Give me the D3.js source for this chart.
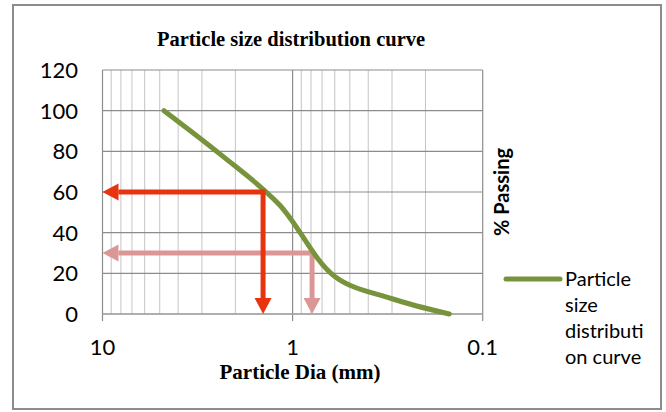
<!DOCTYPE html>
<html>
<head>
<meta charset="utf-8">
<script src="https://cdn.jsdelivr.net/npm/d3@7"></script>
<style>
  body { margin: 0; background: #fff; }
</style>
</head>
<body>
<svg id="chart" width="666" height="412"></svg>
<script>
// sieve sizes (mm) and % passing
const sieve = [4.75, 2.36, 1.18, 0.6, 0.3, 0.15];
const passing = [100, 78, 54, 18.5, 7.5, 0];
const yTicks = [0, 20, 40, 60, 80, 100, 120];
const xTicks = [10, 1, 0.1];
const xTickLabels = ["10", "1", "0.1"];
// the two read-off lines: [dia, % passing]
const d60 = [1.43, 60];
const d30 = [0.79, 30];
const legendLines = ["Particle", "size", "distributi", "on curve"];

const svg = d3.select("#chart");
const pLeft = 102.5, pRight = 482.7, pTop = 70, pBottom = 314;

const x = d3.scaleLog().domain([10, 0.1]).range([pLeft, pRight]);
const y = d3.scaleLinear().domain([0, 120]).range([pBottom, pTop]);

// outer frame
svg.append("rect")
  .attr("x", 13).attr("y", 5).attr("width", 648).attr("height", 404)
  .attr("fill", "#fff").attr("stroke", "#8c8c8c").attr("stroke-width", 2);

const g = svg.append("g");

// minor vertical grid
const minor = [];
[0.1, 1].forEach(base => { for (let k = 2; k <= 9; k++) minor.push(base * k); });
g.selectAll("line.minor").data(minor).join("line")
  .attr("x1", d => x(d)).attr("x2", d => x(d))
  .attr("y1", pTop).attr("y2", pBottom)
  .attr("stroke", "#c4c4c4").attr("stroke-width", 1);

// horizontal grid
g.selectAll("line.h").data(yTicks).join("line")
  .attr("x1", pLeft).attr("x2", pRight)
  .attr("y1", d => y(d)).attr("y2", d => y(d))
  .attr("stroke", "#8c8c8c").attr("stroke-width", 1.2);

// major vertical grid
g.selectAll("line.major").data(xTicks).join("line")
  .attr("x1", d => x(d)).attr("x2", d => x(d))
  .attr("y1", pTop).attr("y2", pBottom + 7)
  .attr("stroke", "#8c8c8c").attr("stroke-width", 1.2);

// x axis line
g.append("line").attr("x1", pLeft).attr("x2", pRight)
  .attr("y1", pBottom).attr("y2", pBottom)
  .attr("stroke", "#a6a6a6").attr("stroke-width", 1.5);

// y tick labels
g.selectAll("text.yl").data(yTicks).join("text")
  .attr("x", 78).attr("y", d => y(d)).attr("dy", "0.36em")
  .attr("text-anchor", "end")
  .attr("font-family", "Lato, sans-serif").attr("font-size", 22)
  .text(d => d);

// x tick labels
g.selectAll("text.xl").data(xTicks).join("text")
  .attr("x", d => x(d)).attr("y", 355)
  .attr("text-anchor", "middle")
  .attr("font-family", "Lato, sans-serif").attr("font-size", 22)
  .text((d, i) => xTickLabels[i]);

// arrows
function arrow(pt, color) {
  const px = x(pt[0]), py = y(pt[1]);
  const x0 = x(10), y0 = y(0);
  const w = 5, head = 16, half = 8.5;
  g.append("line").attr("x1", px).attr("y1", py).attr("x2", x0 + head).attr("y2", py)
    .attr("stroke", color).attr("stroke-width", w);
  g.append("path")
    .attr("d", `M${x0},${py}L${x0 + head},${py - half}L${x0 + head},${py + half}Z`)
    .attr("fill", color);
  g.append("line").attr("x1", px).attr("y1", py - w / 2).attr("x2", px).attr("y2", y0 - head)
    .attr("stroke", color).attr("stroke-width", w);
  g.append("path")
    .attr("d", `M${px},${y0}L${px - half},${y0 - head}L${px + half},${y0 - head}Z`)
    .attr("fill", color);
}
arrow(d30, "#db9796");

// curve
const line = d3.line()
  .x(d => x(d[0])).y(d => y(d[1]))
  .curve(d3.curveCatmullRom.alpha(0.5));
g.append("path")
  .datum(sieve.map((s, i) => [s, passing[i]]))
  .attr("d", line)
  .attr("fill", "none").attr("stroke", "#77933c")
  .attr("stroke-width", 5).attr("stroke-linecap", "round");

arrow(d60, "#e8330f");

// title
svg.append("text").attr("x", 291).attr("y", 46)
  .attr("text-anchor", "middle")
  .attr("font-family", "'Liberation Serif', 'Times New Roman', serif")
  .attr("font-weight", "bold").attr("font-size", 20.5)
  .text("Particle size distribution curve");

// x axis title
svg.append("text").attr("x", 300).attr("y", 379)
  .attr("text-anchor", "middle")
  .attr("font-family", "'Liberation Serif', 'Times New Roman', serif")
  .attr("font-weight", "bold").attr("font-size", 21)
  .text("Particle Dia (mm)");

// y axis title on the right
svg.append("text")
  .attr("transform", "translate(509,192) rotate(-90)")
  .attr("text-anchor", "middle")
  .attr("font-family", "Lato, sans-serif")
  .attr("font-weight", "bold").attr("font-size", 20)
  .text("% Passing");

// legend
const lg = svg.append("g");
lg.append("line").attr("x1", 506).attr("x2", 560).attr("y1", 279).attr("y2", 279)
  .attr("stroke", "#77933c").attr("stroke-width", 5).attr("stroke-linecap", "round");
lg.selectAll("text").data(legendLines).join("text")
  .attr("x", 565).attr("y", (d, i) => 286 + i * 26)
  .attr("font-family", "Lato, sans-serif").attr("font-size", 20)
  .text(d => d);
</script>
</body>
</html>
